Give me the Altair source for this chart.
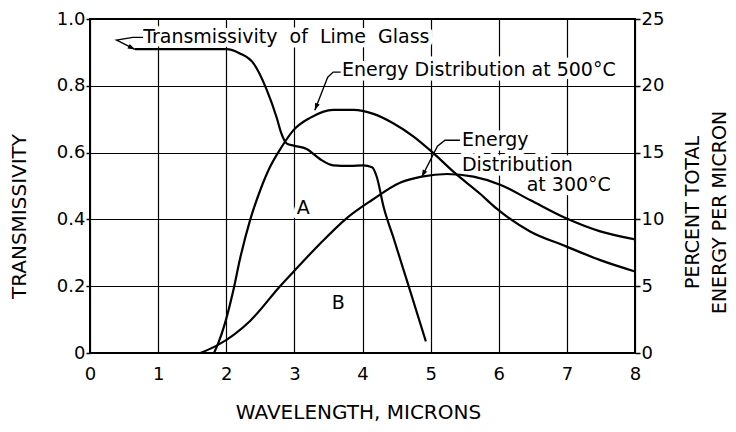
import math
import altair as alt
import pandas as pd

# ---------------- data ----------------
# Transmissivity of lime glass (left axis, fraction)
glass_wl = [0.66, 1.0, 1.5, 2.0, 2.2, 2.4, 2.59, 2.74, 2.81, 2.89, 2.99, 3.18,
            3.38, 3.57, 3.82, 4.01, 4.14, 4.21, 4.31, 4.45, 4.65, 4.93]
glass_tr = [0.91, 0.91, 0.91, 0.91, 0.897, 0.867, 0.79, 0.705, 0.657, 0.627, 0.621, 0.611,
            0.58, 0.562, 0.56, 0.562, 0.556, 0.527, 0.437, 0.348, 0.218, 0.035]

# Energy distribution at 500 C (right axis, percent total energy per micron)
e500_wl = [1.82, 1.88, 1.98, 2.10, 2.20, 2.35, 2.50, 2.64, 2.81, 2.99, 3.23, 3.57,
           3.87, 4.16, 4.45, 4.75, 5.02, 5.35, 5.73, 5.97, 6.46, 6.98, 7.49, 8.0]
e500_pct = [0, 0.7, 2.2, 4.6, 7.0, 9.95, 12.2, 13.9, 15.4, 16.7, 17.6, 18.2,
            18.2, 17.9, 17.2, 16.2, 15.05, 13.5, 11.9, 10.8, 9.1, 8.0, 6.95, 6.1]

# Energy distribution at 300 C
e300_wl = [1.62, 1.86, 2.35, 2.79, 2.99, 3.38, 3.77, 4.14, 4.55, 4.87, 5.24, 5.63,
           6.02, 6.46, 6.98, 7.49, 8.0]
e300_pct = [0, 0.55, 2.4, 5.0, 6.1, 8.2, 10.1, 11.45, 12.75, 13.2, 13.4, 13.2,
            12.6, 11.45, 10.1, 9.1, 8.5]

# tick values
x_ticks = [0, 1, 2, 3, 4, 5, 6, 7, 8]
left_ticks = [0, 0.2, 0.4, 0.6, 0.8, 1.0]
right_ticks = [0, 5, 10, 15, 20, 25]

# annotation labels (data units of wavelength / transmissivity)
label_text = ["Transmissivity\u00a0 of\u00a0 Lime\u00a0 Glass", "Energy Distribution at 500°C",
              "Energy", "Distribution", "at 300°C", "A", "B"]
label_x = [0.78, 3.70, 5.46, 5.46, 6.41, 3.035, 3.55]
label_y = [0.947, 0.847, 0.637, 0.562, 0.502, 0.433, 0.150]

# leader lines (data units)
lead_glass_x = [0.78, 0.63, 0.39, 0.66]
lead_glass_y = [0.945, 0.945, 0.937, 0.909]
lead_500_x = [3.68, 3.57, 3.49, 3.30]
lead_500_y = [0.841, 0.841, 0.826, 0.727]
lead_300_x = [5.43, 5.21, 5.10, 4.87]
lead_300_y = [0.637, 0.637, 0.619, 0.527]

# ---------------- layout ----------------
W, H = 545, 334
FONT = "DejaVu Sans"

df_glass = pd.DataFrame({"wl": glass_wl, "tr": glass_tr})
df_energy = pd.concat([
    pd.DataFrame({"wl": e500_wl, "pct": e500_pct, "series": "500"}),
    pd.DataFrame({"wl": e300_wl, "pct": e300_pct, "series": "300"}),
])
df_labels = pd.DataFrame({"wl": label_x, "y": label_y, "text": label_text})

leaders = [("glass", lead_glass_x, lead_glass_y),
           ("e500", lead_500_x, lead_500_y),
           ("e300", lead_300_x, lead_300_y)]
rows, arrows = [], []
for name, xs, ys in leaders:
    for i, (a, b) in enumerate(zip(xs, ys)):
        rows.append({"wl": a, "y": b, "grp": name, "i": i})
    dx = (xs[-1] - xs[-2]) * W / 8.0
    dy = -(ys[-1] - ys[-2]) * H / 1.0
    ang = math.degrees(math.atan2(dy, dx)) % 360
    arrows.append({"wl": xs[-1], "y": ys[-1], "ang": ang})
df_lead = pd.DataFrame(rows)
df_arrow = pd.DataFrame(arrows)

x_axis = alt.Axis(
    values=x_ticks, format="d", grid=True, gridColor="black", gridWidth=1.2,
    domain=False, ticks=False, tickSize=0, labelPadding=12, labelFontSize=18,
    labelFlush=False, title="WAVELENGTH, MICRONS", titleX=268, titleY=59,
    titleBaseline="middle", titleAlign="center",
)
X = alt.X("wl:Q", scale=alt.Scale(domain=[0, 8], nice=False, zero=False), axis=x_axis)

left_axis = alt.Axis(
    orient="left", values=left_ticks,
    labelExpr="datum.value == 0 ? '0' : format(datum.value, '.1f')",
    grid=True, gridColor="black", gridWidth=1.2, domain=False,
    ticks=True, tickSize=4, tickColor="black", tickWidth=1.5,
    labelPadding=1, labelFontSize=18, labelFlush=False,
    title="TRANSMISSIVITY", titleX=-71, titleY=197, titleAngle=270,
    titleBaseline="middle", titleAlign="center",
)
right_axis = alt.Axis(
    orient="right", values=right_ticks, format="d", grid=False, domain=False,
    ticks=True, tickSize=5, tickColor="black", tickWidth=1.5,
    labelPadding=1, labelFontSize=18, labelFlush=False,
    title=["PERCENT TOTAL", "ENERGY PER MICRON"], titleX=57, titleY=193,
    titleAngle=270, titleBaseline="middle", titleAlign="center", titleLineHeight=27,
    titleFontSize=19,
)
Yann = alt.Y("y:Q", scale=alt.Scale(domain=[0, 1], nice=False, zero=False), axis=None)

halo = alt.Chart(df_labels).mark_text(
    align="left", baseline="middle", font=FONT, fontSize=19,
    stroke="white", strokeWidth=9, strokeJoin="round", fill="white",
).encode(x=X, y=Yann, text="text:N")

glass = alt.Chart(df_glass).mark_line(
    interpolate="monotone", color="black", strokeWidth=2.2
).encode(x=X, y=alt.Y("tr:Q", scale=alt.Scale(domain=[0, 1], nice=False, zero=False), axis=left_axis))

energy = alt.Chart(df_energy).mark_line(
    interpolate="monotone", color="black", strokeWidth=2.2
).encode(
    x=X,
    y=alt.Y("pct:Q", scale=alt.Scale(domain=[0, 25], nice=False, zero=False), axis=right_axis),
    detail="series:N",
)

lead = alt.Chart(df_lead).mark_line(color="black", strokeWidth=1.4).encode(
    x=X, y=Yann, detail="grp:N", order="i:Q"
)

heads = alt.Chart(df_arrow).mark_point(
    shape="M0,0L-1,-0.35L-1,0.35Z", filled=True, color="black", opacity=1, size=200,
).encode(x=X, y=Yann, angle=alt.Angle("ang:Q", scale=None))

labels = alt.Chart(df_labels).mark_text(
    align="left", baseline="middle", font=FONT, fontSize=19, color="black",
).encode(x=X, y=Yann, text="text:N")

chart = alt.layer(halo, glass, energy, lead, heads, labels).resolve_scale(
    y="independent"
).properties(
    width=W, height=H,
    autosize=alt.AutoSizeParams(type="none"),
    padding={"left": 82, "top": 11, "right": 93, "bottom": 71},
    background="white",
).configure_view(
    stroke="black", strokeWidth=2
).configure_axis(
    labelFont=FONT, titleFont=FONT, labelColor="black", titleColor="black",
    titleFontSize=20, titleFontWeight="normal",
)

chart.save("out.html", embed_options={"renderer": "svg", "actions": False})
